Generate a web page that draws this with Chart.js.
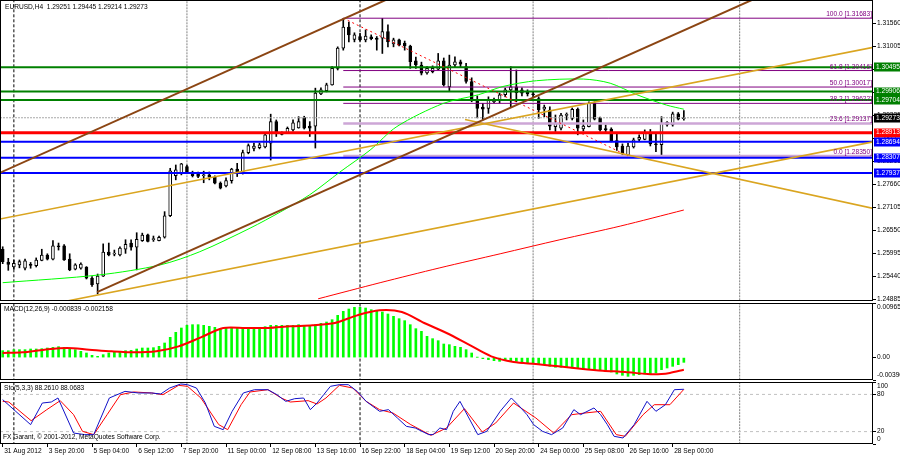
<!DOCTYPE html>
<html><head><meta charset="utf-8">
<script src="https://cdn.jsdelivr.net/npm/chart.js@4.4.0/dist/chart.umd.min.js"></script>
<style>
html,body{margin:0;padding:0;background:#fff;width:900px;height:456px;overflow:hidden;}
canvas{position:absolute;left:0;}
#c1{top:0;} #c2{top:298px;} #c3{top:377px;}
</style></head><body>
<canvas id="c1" width="900" height="306" style="width:900px;height:306px"></canvas>
<canvas id="c2" width="900" height="86" style="width:900px;height:86px"></canvas>
<canvas id="c3" width="900" height="79" style="width:900px;height:79px"></canvas>
<script>
// ---------------- DATA ----------------
const symbolTitle = 'EURUSD,H4';
const opens  = [1.2609,1.2578,1.2566,1.2571,1.2563,1.2571,1.2569,1.2582,1.2595,1.2585,1.2617,1.2617,1.2585,1.2561,1.2563,1.2566,1.2539,1.2525,1.2544,1.2602,1.2597,1.2595,1.2609,1.2624,1.2614,1.2630,1.2644,1.2632,1.2630,1.2638,1.2690,1.2787,1.2793,1.2809,1.2794,1.2791,1.2787,1.2789,1.2783,1.2769,1.2762,1.2775,1.2803,1.2796,1.2843,1.2853,1.2855,1.2857,1.2866,1.2918,1.2890,1.2891,1.2898,1.2903,1.2928,1.2907,1.2907,1.2985,1.2993,1.3007,1.3047,1.3096,1.3147,1.3117,1.3124,1.3116,1.3123,1.3120,1.3120,1.3136,1.3106,1.3116,1.3108,1.3101,1.3065,1.3055,1.3036,1.3039,1.3045,1.3065,1.3002,1.3055,1.3063,1.3051,1.3015,1.2972,1.2953,1.2950,1.2966,1.2970,1.2983,1.2995,1.3002,1.2995,1.2990,1.2985,1.2974,1.2948,1.2946,1.2906,1.2902,1.2933,1.2926,1.2948,1.2900,1.2906,1.2962,1.2926,1.2901,1.2900,1.2872,1.2859,1.2837,1.2857,1.2875,1.2875,1.2890,1.2864,1.2862,1.2916,1.2910,1.2937,1.29251];
const highs  = [1.2615,1.2587,1.2583,1.2583,1.2585,1.2577,1.2588,1.2609,1.2598,1.2630,1.2624,1.2620,1.2598,1.2574,1.2576,1.2567,1.2543,1.2549,1.2622,1.2624,1.2607,1.2615,1.2632,1.2632,1.2649,1.2648,1.2646,1.2641,1.2641,1.2700,1.2805,1.2813,1.2817,1.2813,1.2798,1.2796,1.2798,1.2796,1.2787,1.2772,1.2782,1.2805,1.2817,1.2849,1.2864,1.2866,1.2866,1.2891,1.2936,1.2922,1.2893,1.2905,1.2922,1.2930,1.2931,1.2918,1.2999,1.3000,1.3011,1.3051,1.3099,1.3168,1.3159,1.3133,1.3132,1.3140,1.3128,1.3124,1.3168,1.3152,1.3120,1.3118,1.3113,1.3103,1.3074,1.3062,1.3051,1.3053,1.3083,1.3072,1.3079,1.3075,1.3067,1.3059,1.3024,1.2980,1.2962,1.2978,1.2975,1.2987,1.2999,1.3051,1.3043,1.3000,1.2995,1.2990,1.2978,1.2958,1.2954,1.2934,1.2938,1.2939,1.2951,1.2951,1.2922,1.2966,1.2966,1.2929,1.2910,1.2903,1.2890,1.2864,1.2866,1.2878,1.2886,1.2898,1.2899,1.2890,1.2930,1.2918,1.2941,1.2940,1.29445];
const lows   = [1.2574,1.2558,1.2561,1.2564,1.2559,1.2563,1.2566,1.2581,1.2583,1.2583,1.2607,1.2582,1.2557,1.2559,1.2561,1.2537,1.2519,1.2501,1.2543,1.2593,1.2593,1.2593,1.2599,1.2607,1.2559,1.2628,1.2627,1.2628,1.2629,1.2636,1.2688,1.2777,1.2789,1.2793,1.2784,1.2782,1.2770,1.2777,1.2767,1.2755,1.2760,1.2769,1.2785,1.2791,1.2840,1.2847,1.2852,1.2854,1.2825,1.2882,1.2886,1.2890,1.2895,1.2902,1.2900,1.2882,1.2854,1.2983,1.2990,1.3006,1.3043,1.3091,1.3111,1.3111,1.3113,1.3111,1.3116,1.3091,1.3083,1.3099,1.3099,1.3101,1.3091,1.3047,1.3047,1.3031,1.3033,1.3036,1.3043,1.3004,1.2993,1.3051,1.3051,1.3011,1.2966,1.2927,1.2922,1.2938,1.2963,1.2963,1.2978,1.2954,1.2966,1.2980,1.2980,1.2978,1.2926,1.2930,1.2898,1.2894,1.2898,1.2922,1.2922,1.2886,1.2895,1.2905,1.2922,1.2895,1.2893,1.2869,1.2848,1.2837,1.2835,1.2854,1.2871,1.2874,1.2859,1.2845,1.2836,1.2907,1.2907,1.2922,1.29214];
const closes = [1.2579,1.2572,1.2575,1.2579,1.2581,1.2570,1.2583,1.2595,1.2585,1.2617,1.2615,1.2583,1.2559,1.2571,1.2573,1.2539,1.2523,1.2544,1.2602,1.2595,1.2598,1.2612,1.2621,1.2614,1.2633,1.2643,1.2628,1.2635,1.2638,1.2690,1.2799,1.2801,1.2816,1.2797,1.2787,1.2785,1.2789,1.2784,1.2769,1.2757,1.2775,1.2803,1.2794,1.2843,1.2860,1.2859,1.2862,1.2886,1.2918,1.2890,1.2887,1.2902,1.2915,1.2918,1.2902,1.2902,1.2987,1.2995,1.3007,1.3047,1.3096,1.3147,1.3128,1.3128,1.3116,1.3125,1.3119,1.3117,1.3136,1.3111,1.3116,1.3103,1.3101,1.3063,1.3055,1.3035,1.3047,1.3047,1.3065,1.3007,1.3055,1.3063,1.3057,1.3015,1.2972,1.2950,1.2948,1.2970,1.2970,1.2983,1.2995,1.3002,1.2988,1.2987,1.2985,1.2983,1.2946,1.2953,1.2907,1.2914,1.2934,1.2934,1.2948,1.2902,1.2907,1.2962,1.2924,1.2898,1.2898,1.2872,1.2857,1.2841,1.2859,1.2874,1.2880,1.2890,1.2864,1.2862,1.2914,1.2910,1.2937,1.2924,1.29273];

const xTickIdx = [0,8,16,24,32,40,48,56,64,72,80,88,96,104,112,120];
const xTickLabels = ['31 Aug 2012','3 Sep 20:00','5 Sep 04:00','6 Sep 12:00','7 Sep 20:00','11 Sep 00:00','12 Sep 08:00','13 Sep 16:00','16 Sep 22:00','18 Sep 04:00','19 Sep 12:00','20 Sep 20:00','24 Sep 00:00','25 Sep 08:00','26 Sep 16:00','28 Sep 00:00'];
const weekSeparators = [2,33,64,95,132];

const priceTicks = [1.31560,1.31005,1.30450,1.29890,1.29335,1.28775,1.28215,1.27660,1.27105,1.26550,1.25995,1.25440,1.24885];

const greenLevels = [1.30495,1.29906,1.29704];
const redLevels = [1.28913];
const blueLevels = [1.28694,1.28307,1.27937];
const bidPrice = 1.29273;

const fibPct = ['100.0','61.8','50.0','38.2','23.6','0.0'];
const fibPrice = [1.31683,1.30416,1.30017,1.29622,1.29137,1.28350];
const fibFromBar = 61, fibToBar = 112;

// trend lines: [bar0, price0, bar1, price1]
const brownLines = [[-2.27,1.27834,71.2,1.32281],[16.9,1.25053,135.6,1.32209]];
const orangeLines = [[-2.27,1.26776,157.1,1.31008],[6.68,1.24707,157.1,1.28722],[82.8,1.29229,157.1,1.27044]];

const maGreenIdx = [0,17.4,28.2,35.3,44.3,49.7,55.0,60.4,65.8,70.6,78.9,85.2,89.6,95.6,104.0,108.8,113.6,118.9,122];
const maGreenVal = [1.2528,1.2547,1.2571,1.2603,1.2660,1.2699,1.2741,1.2796,1.2849,1.2906,1.2962,1.2983,1.3003,1.3017,1.3021,1.3011,1.2983,1.2958,1.2948];
const maRedIdx = [56.5,67.6,78.3,89.1,99.8,110.6,122];
const maRedVal = [1.2489,1.2528,1.2564,1.2598,1.2632,1.2665,1.2704];

const macdHist = [0.001225,0.001225,0.001402,0.001402,0.001402,0.001520,0.001520,0.001579,0.001696,0.001814,0.001932,0.001814,0.001579,0.001402,0.001107,0.000813,0.000401,0.000224,0.000518,0.000813,0.000931,0.001107,0.001225,0.001284,0.001520,0.001696,0.001696,0.001755,0.001991,0.002580,0.003581,0.004465,0.005231,0.005702,0.005819,0.005819,0.005702,0.005525,0.005348,0.005113,0.005231,0.005231,0.005231,0.005231,0.005231,0.005348,0.005348,0.005466,0.005702,0.005702,0.005702,0.005702,0.005702,0.005819,0.005702,0.005584,0.005819,0.006055,0.006291,0.006703,0.007469,0.008176,0.008588,0.008883,0.008883,0.008765,0.008470,0.008176,0.008058,0.007705,0.007292,0.006880,0.006526,0.005819,0.005113,0.004641,0.003758,0.003346,0.002992,0.002403,0.002286,0.001991,0.001814,0.001402,0.000813,0.000047,-0.000188,-0.000365,-0.000542,-0.000660,-0.000542,-0.000542,-0.000660,-0.000954,-0.000954,-0.001013,-0.001249,-0.001249,-0.001543,-0.001720,-0.001720,-0.001720,-0.001838,-0.001955,-0.002132,-0.001955,-0.002132,-0.002309,-0.002427,-0.002545,-0.002898,-0.003134,-0.003311,-0.003134,-0.003016,-0.002898,-0.002898,-0.002721,-0.002132,-0.001838,-0.001543,-0.001249,-0.000839];
const macdSigIdx = [0,3.5,7.5,11.5,15.5,19.5,23.5,27.5,31.5,35.5,39.5,43.5,47.5,51.5,55.5,59.5,63.5,67.5,71.5,75.5,79.5,83.5,87.5,91.5,95.5,99.5,103.5,107.5,111.5,115.5,118,119.5,122];
const macdSigVal = [0.000813,0.000931,0.001402,0.001696,0.001402,0.001107,0.000931,0.001107,0.001991,0.003581,0.005231,0.005231,0.005231,0.005525,0.005702,0.006114,0.007469,0.008352,0.008058,0.006114,0.004347,0.002285,0.000224,-0.000777,-0.001131,-0.001543,-0.001955,-0.002309,-0.002545,-0.002898,-0.002898,-0.002721,-0.002158];
const macdAxisMax = 0.00965, macdAxisMin = -0.00396;

const stochKIdx = [0,5,7.1,8.7,9.9,12.7,14.7,16.3,19.1,21.9,24.3,26.7,28.3,29.9,31.9,33.1,34.7,36.3,37.9,39.5,41.1,43.1,45.1,47.5,49.1,50.7,52.3,53.9,55.1,56.3,57.5,58.7,60.3,61.9,63.5,65.1,67.5,69.1,70.7,72.3,73.9,76.3,77.1,78.3,79.5,80.7,81.9,85.1,86.7,89.1,91.1,92.3,93.9,95.1,96.7,98.3,100.3,102.3,103.5,105.9,107.1,108.3,109.5,111.1,113.1,115.4,117,118.7,120.3,122];
const stochKVal = [71.5,31.2,66.1,67.7,74.2,17.7,15.1,15.1,74.2,84.9,82.3,82.3,80.6,90.3,96.8,95.7,90.3,66.1,28.5,23.1,52.7,82.3,87.6,87.6,79.6,68.8,73.1,74.2,55.4,66.1,79.6,93.0,95.7,95.7,84.9,68.8,52.7,55.4,41.9,28.5,25.8,15.1,15.1,25.8,23.1,52.7,68.8,15.1,20.4,52.7,74.2,63.4,47.3,31.2,20.4,15.1,25.8,55.4,47.3,58.1,47.3,31.2,12.4,9.7,31.2,68.8,52.7,63.4,87.6,88.2610];
const stochDIdx = [0,1.1,5.1,7.9,10.3,12.7,14.3,16.3,18.7,21.1,23.5,26.7,28.7,31.5,33.1,35.5,38.7,40.3,42.7,44.3,47.5,49.9,51.5,54.7,56.3,57.9,60.3,62.7,65.1,67.5,69.9,73.1,76.7,79.5,82.7,85.9,88.3,91.5,95.5,98.7,101.9,104.3,107.1,109.9,111.5,114.7,116.7,119.5,122];
const stochDVal = [68.8,67.7,37.6,55.4,69.9,47.3,20.4,15.1,47.3,79.6,83.9,82.3,79.6,94.6,93.0,74.2,31.2,23.1,63.4,83.9,87.6,74.2,67.7,69.9,64.5,74.2,94.6,90.3,68.8,55.4,50.0,31.2,14.0,25.8,57.0,19.3,33.9,66.1,41.9,17.7,47.3,50.0,52.7,15.1,12.4,47.3,63.4,63.4,88.0683];
const stochLevels = [80,20];
const stochTicks = [100,80,20,0];

// ---------------- SETUP ----------------
const FONT = "'Liberation Sans', Arial, sans-serif";
const FS = 6.6;
Chart.defaults.font.family = FONT;
Chart.defaults.font.size = FS;
Chart.defaults.color = '#000';
Chart.defaults.animation = false;
Chart.defaults.events = [];
Chart.defaults.plugins.legend.display = false;
Chart.defaults.plugins.tooltip.enabled = false;

const X_MIN = -0.484, X_MAX = 155.88;
const N = closes.length;
const idx = Array.from({length:N}, (_, i) => i);

function xScale(show){
  return {type:'linear', min:X_MIN, max:X_MAX, offset:false, display:show,
    grid:{display:show, drawOnChartArea:false, drawTicks:true, tickLength:3, tickColor:'#000', color:'#000', offset:false},
    border:{display:false},
    afterBuildTicks: s => { s.ticks = xTickIdx.map(v => ({value:v})); },
    afterFit: s => { s.paddingLeft = 0; s.paddingRight = 0; if (show) s.height = 12; },
    ticks:{autoSkip:false, maxRotation:0, minRotation:0, align:'start', labelOffset:1.5, padding:0,
      font:{size:FS, family:FONT}, callback:(v,i) => xTickLabels[i]}
  };
}
function yScale(min, max, vals, fmt, lh){
  return {type:'linear', position:'right', min, max,
    grid:{drawOnChartArea:false, drawTicks:true, tickLength:3, tickColor:'#000', color:'#000'},
    border:{display:false},
    afterBuildTicks: s => { s.ticks = vals.map(v => ({value:v})); },
    afterFit: s => { s.width = 27; s.paddingTop = 0; s.paddingBottom = 0; },
    ticks:{autoSkip:false, padding:1, callback:fmt, font:{size:FS, family:FONT, lineHeight:lh || 1.2}}
  };
}
function seg(x0, y0, x1, y1, color, w, dash, order){
  return {type:'line', data:[{x:x0,y:y0},{x:x1,y:y1}], borderColor:color, borderWidth:w,
    borderDash:dash || [], pointRadius:0, fill:false, tension:0, order:order};
}
function series(xs, ys, color, w, order, tension){
  return {type:'line', data:xs.map((x,k) => ({x, y:ys[k]})), borderColor:color, borderWidth:w,
    pointRadius:0, fill:false, tension:tension || 0, order:order};
}
function separators(lo, hi){
  return weekSeparators.map((s,k) => {
    const dark = (k === 0 || k === 2);
    return seg(s, lo, s, hi, dark ? '#000000' : '#808080', 1, dark ? [3,2] : [2,1], 30);
  });
}
const framePlugin = {id:'frame', afterDatasetsDraw(chart){
  const a = chart.chartArea, c = chart.ctx;
  c.save(); c.strokeStyle = '#000'; c.lineWidth = 1;
  c.strokeRect(a.left + 0.5, a.top + 0.5, a.right - a.left - 1, a.bottom - a.top - 1);
  c.restore();
}};
function txt(c, s, x, y, color, align){
  c.fillStyle = color || '#000'; c.textAlign = align || 'left'; c.textBaseline = 'middle';
  c.fillText(s, x, y);
}

// ---------------- MAIN PRICE CHART ----------------
const yMin = 1.24837, yMax = 1.32124;
const mainDatasets = [];
mainDatasets.push(...separators(yMin - 0.01, yMax + 0.01));
mainDatasets.push({type:'bar', data:idx.map(i => ({x:i, y:[lows[i], highs[i]]})), backgroundColor:'#000',
  barThickness:1, grouped:false, order:25});
mainDatasets.push({type:'bar', data:idx.map(i => ({x:i, y:[Math.min(opens[i],closes[i]), Math.max(opens[i],closes[i])]})),
  backgroundColor:ctx => closes[ctx.dataIndex] >= opens[ctx.dataIndex] ? '#ffffff' : '#000000',
  borderColor:'#000', borderWidth:1, borderSkipped:false, barThickness:3, minBarLength:1, grouped:false, order:24});
mainDatasets.push(seg(X_MIN, bidPrice, X_MAX, bidPrice, '#A8A8A8', 1, [2,1], 20));
greenLevels.forEach(v => mainDatasets.push(seg(X_MIN, v, X_MAX, v, '#008000', 2, [], 12)));
redLevels.forEach(v => mainDatasets.push(seg(X_MIN, v, X_MAX, v, '#FF0000', 3, [], 12)));
blueLevels.forEach(v => mainDatasets.push(seg(X_MIN, v, X_MAX, v, '#0000FF', 2, [], 12)));
fibPrice.forEach((v,k) => mainDatasets.push(seg(fibFromBar, v, X_MAX, v, k >= 4 ? '#CDA6D6' : '#800080', k >= 4 ? 2.5 : 1, [], 13)));
mainDatasets.push(seg(fibFromBar, fibPrice[0], fibToBar, fibPrice[5], '#FF0000', 1, [2,3], 11));
mainDatasets.push(series(maGreenIdx, maGreenVal, '#00FF00', 1, 10, 0.3));
mainDatasets.push(series(maRedIdx, maRedVal, '#FF0000', 1, 10, 0.3));
brownLines.forEach(l => mainDatasets.push(seg(l[0], l[1], l[2], l[3], '#8B4513', 2, [], 9)));
orangeLines.forEach(l => mainDatasets.push(seg(l[0], l[1], l[2], l[3], '#DAA520', 1.6, [], 9)));

const mainText = {id:'mainText', afterDraw(chart){
  const c = chart.ctx, a = chart.chartArea, ys = chart.scales.y;
  c.save();
  c.font = FS + 'px ' + FONT;
  const last = N - 1;
  txt(c, symbolTitle + '  ' + [opens[last], highs[last], lows[last], closes[last]].map(v => v.toFixed(5)).join(' '), 5, 7);
  fibPrice.forEach((v,k) => {
    c.fillStyle = '#800080'; c.textAlign = 'right'; c.textBaseline = 'bottom';
    c.fillText(fibPct[k] + ' [' + v.toFixed(5) + ']', a.right - 1, ys.getPixelForValue(v) - 0.5);
  });
  const boxes = [];
  greenLevels.forEach(v => boxes.push([v, '#008000']));
  boxes.push([bidPrice, '#000000']);
  redLevels.forEach(v => boxes.push([v, '#FF0000']));
  blueLevels.forEach(v => boxes.push([v, '#0000FF']));
  boxes.forEach(([v, col]) => {
    const y = ys.getPixelForValue(v);
    c.fillStyle = col; c.fillRect(a.right + 1, Math.round(y) - 4.5, 900 - a.right, 9);
    txt(c, v.toFixed(5), a.right + 3, y, '#ffffff');
  });
  c.restore();
}};

new Chart(document.getElementById('c1'), {
  type:'bar',
  data:{datasets:mainDatasets},
  options:{responsive:false, maintainAspectRatio:false, layout:{padding:{top:0, bottom:5, left:0, right:0}},
    scales:{x:xScale(false), y:yScale(yMin, yMax, priceTicks, v => v.toFixed(5))}},
  plugins:[framePlugin, mainText]
});

// ---------------- MACD ----------------
const macdDatasets = [];
macdDatasets.push(...separators(macdAxisMin - 0.01, macdAxisMax + 0.01));
macdDatasets.push({type:'bar', data:macdHist.map((v,i) => ({x:i, y:v})), backgroundColor:'#00FF00',
  barThickness:2, grouped:false, order:20});
macdDatasets.push(series(macdSigIdx, macdSigVal, '#FF0000', 2, 5, 0.3));
const macdTickVals = [macdAxisMax, 0, macdAxisMin];
const macdText = {id:'macdText', afterDraw(chart){
  const c = chart.ctx; c.save(); c.font = FS + 'px ' + FONT;
  txt(c, 'MACD(12,26,9) ' + macdHist[N-1].toFixed(6) + ' ' + macdSigVal[macdSigVal.length-1].toFixed(6), 4, 11);
  c.restore();
}};
new Chart(document.getElementById('c2'), {
  type:'bar',
  data:{datasets:macdDatasets},
  options:{responsive:false, maintainAspectRatio:false, layout:{padding:{top:5, bottom:4, left:0, right:0}},
    scales:{x:xScale(false), y:yScale(macdAxisMin, macdAxisMax, macdTickVals,
      (v,i) => i === 0 ? ['', v.toFixed(5)] : (i === 2 ? [v.toFixed(5), ''] : '0.00'), 1.4)}},
  plugins:[framePlugin, macdText]
});

// ---------------- STOCHASTIC ----------------
const stDatasets = [];
stDatasets.push(...separators(-10, 110));
stochLevels.forEach(v => stDatasets.push(seg(X_MIN, v, X_MAX, v, '#C0C0C0', 1, [3,3], 25)));
stDatasets.push(series(stochDIdx, stochDVal, '#FF0000', 1, 6, 0));
stDatasets.push(series(stochKIdx, stochKVal, '#1010C8', 1, 5, 0));
const stText = {id:'stText', afterDraw(chart){
  const c = chart.ctx; c.save(); c.font = FS + 'px ' + FONT;
  txt(c, 'Sto(5,3,3) ' + stochKVal[stochKVal.length-1].toFixed(4) + ' ' + stochDVal[stochDVal.length-1].toFixed(4), 4, 11);
  txt(c, 'FX Garant, \u00A9 2001-2012, MetaQuotes Software Corp.', 3, 60);
  c.restore();
}};
new Chart(document.getElementById('c3'), {
  type:'line',
  data:{datasets:stDatasets},
  options:{responsive:false, maintainAspectRatio:false, layout:{padding:{top:5, bottom:0, left:0, right:0}},
    scales:{x:xScale(true), y:yScale(0, 100, stochTicks,
      (v,i) => i === 0 ? ['', String(v)] : (i === 3 ? [String(v), ''] : String(v)), 1.4)}},
  plugins:[framePlugin, stText]
});
</script>
</body></html>
